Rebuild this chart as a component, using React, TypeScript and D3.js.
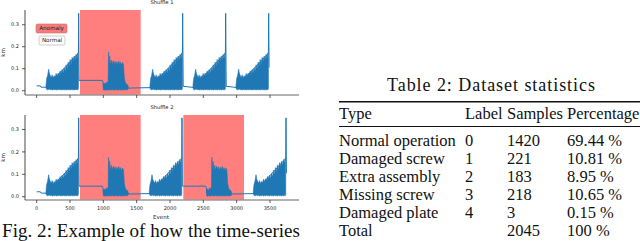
import { useMemo } from 'react';
import * as d3 from 'd3';

// time-series shape: [event offset, low, high]
const normalCycle: [number, number, number][] = [
  [0, 0.012, 0.025], [10, 0.006, 0.055], [25, 0.004, 0.07], [40, 0.006, 0.098],
  [50, 0.008, 0.08], [62, 0.004, 0.07], [78, 0.006, 0.06], [92, 0.003, 0.072],
  [108, 0.005, 0.058], [122, 0.004, 0.068], [138, 0.006, 0.062], [152, 0.003, 0.078],
  [168, 0.005, 0.066], [182, 0.004, 0.08], [198, 0.006, 0.072], [212, 0.004, 0.09],
  [228, 0.005, 0.078], [242, 0.003, 0.096], [258, 0.006, 0.082], [272, 0.004, 0.104],
  [288, 0.005, 0.09], [302, 0.003, 0.118], [318, 0.006, 0.1], [332, 0.004, 0.13],
  [348, 0.005, 0.112], [362, 0.003, 0.142], [378, 0.006, 0.122], [392, 0.004, 0.152],
  [408, 0.005, 0.134], [422, 0.003, 0.158], [438, 0.006, 0.142], [452, 0.004, 0.166],
  [466, 0.005, 0.148], [478, 0.004, 0.172], [486, 0.01, 0.168],
];
const anomalyBurst: [number, number, number][] = [
  [350, 0.004, 0.03], [365, 0.002, 0.035], [380, 0.005, 0.028], [395, 0.002, 0.04],
  [410, 0.004, 0.032], [422, 0.003, 0.045], [428, 0.004, 0.176], [436, 0.005, 0.12],
  [446, 0.003, 0.158], [458, 0.004, 0.115], [470, 0.003, 0.14], [484, 0.005, 0.118],
  [498, 0.003, 0.136], [512, 0.004, 0.122], [526, 0.003, 0.134], [540, 0.005, 0.116],
  [554, 0.003, 0.132], [568, 0.004, 0.12], [582, 0.003, 0.135], [596, 0.005, 0.118],
  [610, 0.003, 0.13], [624, 0.004, 0.115], [638, 0.003, 0.128], [652, 0.005, 0.12],
  [664, 0.004, 0.06], [678, 0.003, 0.04], [694, 0.005, 0.03], [710, 0.004, 0.028],
  [724, 0.008, 0.02],
];
const leadIn: [number, number][] = [[0, 0.022], [55, 0.022], [65, 0.016], [140, 0.016]];
const spikeValue = 0.352;
const anomalySpan = 910;

const shuffle1Normal = [140, 1700, 2345, 2990];
const shuffle1Anomaly = [650];
const shuffle2Normal = [140, 1690, 3250];
const shuffle2Anomaly = [650, 2200];

const xTicks = [0, 500, 1000, 1500, 2000, 2500, 3000, 3500];
const yTicks = [0, 0.1, 0.2, 0.3];

// table
const tableTypes = ['Normal operation', 'Damaged screw', 'Extra assembly', 'Missing screw', 'Damaged plate', 'Total'];
const tableLabels = ['0', '1', '2', '3', '4', ''];
const tableSamples = ['1420', '221', '183', '218', '3', '2045'];
const tablePercent = ['69.44 %', '10.81 %', '8.95 %', '10.65 %', '0.15 %', '100 %'];

const BLUE = '#1f77b4';
const SANS = 'DejaVu Sans, sans-serif';
const SERIF = 'Liberation Serif, serif';

function buildTrace(normals: number[], anomalies: number[]) {
  const segs = [
    ...normals.map((s) => ({ kind: 'n', start: s })),
    ...anomalies.map((s) => ({ kind: 'a', start: s })),
  ].sort((a, b) => a.start - b.start);
  const pts: [number, number][] = [...leadIn];
  segs.forEach((seg, i) => {
    const next = segs[i + 1];
    if (seg.kind === 'n') {
      pts.push([seg.start, 0.015], [seg.start + 486, 0.17], [seg.start + 490, spikeValue]);
      if (!next) pts.push([seg.start + 496, 0.105]);
      else if (next.kind === 'a') pts.push([seg.start + 496, 0.047]);
      else pts.push([seg.start + 498, 0.02], [next.start, 0.015]);
    } else {
      pts.push([seg.start, 0.047], [seg.start + 335, 0.047], [seg.start + 345, 0.04],
        [seg.start + 350, 0.015], [seg.start + 724, 0.012], [seg.start + 730, 0.012]);
      if (next) pts.push([next.start, 0.014]);
    }
  });
  return pts;
}

function Panel({ top, bottom, yDomain, title, normals, anomalies, showXLabels, legend }: {
  top: number; bottom: number; yDomain: [number, number]; title: string;
  normals: number[]; anomalies: number[]; showXLabels: boolean; legend: boolean;
}) {
  const x = d3.scaleLinear().domain([-175, 3935]).range([25, 299]);
  const y = d3.scaleLinear().domain(yDomain).range([bottom, top]);
  const area = d3.area<[number, number, number]>().x((d) => x(d[0])).y0((d) => y(d[1])).y1((d) => y(d[2]));
  const line = d3.line<[number, number]>().x((d) => x(d[0])).y((d) => y(d[1]));
  const trace = useMemo(() => buildTrace(normals, anomalies), [normals, anomalies]);
  const blocks = [
    ...normals.map((s) => normalCycle.map(([o, lo, hi]) => [s + o, lo, hi] as [number, number, number])),
    ...anomalies.map((s) => anomalyBurst.map(([o, lo, hi]) => [s + o, lo, hi] as [number, number, number])),
  ];
  const midY = (top + bottom) / 2;
  return (
    <g>
      {anomalies.map((s) => (
        <rect key={s} x={x(s)} y={top} width={x(s + anomalySpan) - x(s)} height={bottom - top - 0.5}
          fill="#ff0000" fillOpacity={0.5} />
      ))}
      {blocks.map((b, i) => (
        <path key={i} d={area(b) ?? ''} fill={BLUE} stroke={BLUE} strokeWidth={0.6} />
      ))}
      <path d={line(trace) ?? ''} fill="none" stroke={BLUE} strokeWidth={1} />
      <line x1={25} x2={25} y1={top} y2={bottom} stroke="#333" strokeWidth={0.9} />
      <line x1={25} x2={299} y1={bottom} y2={bottom} stroke="#555" strokeWidth={0.9} />
      {yTicks.map((t) => (
        <g key={t}>
          <line x1={22} x2={25} y1={y(t)} y2={y(t)} stroke="#333" strokeWidth={0.8} />
          <text x={19} y={y(t)} dy="0.35em" textAnchor="end" fontSize={5} fontFamily={SANS} fill="#222">
            {t.toFixed(1)}
          </text>
        </g>
      ))}
      {xTicks.map((t) => (
        <g key={t}>
          <line x1={x(t)} x2={x(t)} y1={bottom} y2={bottom + 3} stroke="#333" strokeWidth={0.8} />
          {showXLabels && (
            <text x={x(t)} y={bottom + 10} textAnchor="middle" fontSize={5} fontFamily={SANS} fill="#222">
              {t}
            </text>
          )}
        </g>
      ))}
      <text x={162} y={top - 6} textAnchor="middle" fontSize={5.2} fontFamily={SANS} fill="#222">{title}</text>
      <text transform={`translate(5,${midY}) rotate(-90)`} textAnchor="middle" fontSize={5.5} fontFamily={SANS} fill="#222">km</text>
      {showXLabels && (
        <text x={161} y={bottom + 19} textAnchor="middle" fontSize={5.5} fontFamily={SANS} fill="#222">Event</text>
      )}
      {legend && (
        <g fontFamily={SANS} fontSize={5.6} textAnchor="middle" fill="#222">
          <rect x={36} y={24} width={31} height={9} rx={1.5} fill="#f47c7c" stroke="#d76a6a" strokeWidth={0.6} />
          <text x={51.5} y={28.5} dy="0.35em">Anomaly</text>
          <rect x={39} y={36} width={26} height={9} rx={1.5} fill="#fff" stroke="#aaa" strokeWidth={0.6} />
          <text x={52} y={40.5} dy="0.35em">Normal</text>
        </g>
      )}
    </g>
  );
}

export default function App() {
  const rowBase = [146, 164, 182, 200, 218, 236];
  return (
    <svg width={640} height={241} style={{ position: 'absolute', left: 0, top: 0, background: '#fff' }}>
      <Panel top={10} bottom={95} yDomain={[-0.0195, 0.367]} title="Shuffle 1"
        normals={shuffle1Normal} anomalies={shuffle1Anomaly} showXLabels={false} legend />
      <Panel top={115} bottom={200} yDomain={[-0.0147, 0.3647]} title="Shuffle 2"
        normals={shuffle2Normal} anomalies={shuffle2Anomaly} showXLabels legend={false} />
      <text x={2} y={237} fontSize={19} fontFamily={SERIF} fill="#111" textLength={298} lengthAdjust="spacing">
        Fig. 2: Example of how the time-series
      </text>

      <g fontFamily={SERIF} fill="#111">
        <text x={491} y={91} fontSize={18} textAnchor="middle" textLength={208} lengthAdjust="spacing">
          Table 2: Dataset statistics
        </text>
        <line x1={339} x2={640} y1={101.7} y2={101.7} stroke="#111" strokeWidth={1.4} />
        <g fontSize={16.5}>
          <text x={339} y={118.5}>Type</text>
          <text x={465} y={118.5}>Label</text>
          <text x={507} y={118.5}>Samples</text>
          <text x={567} y={118.5}>Percentage</text>
        </g>
        <line x1={339} x2={640} y1={126.5} y2={126.5} stroke="#111" strokeWidth={1.1} />
        <g fontSize={16.5}>
          {tableTypes.map((t, i) => (
            <g key={t}>
              <text x={339} y={rowBase[i]}>{t}</text>
              <text x={465} y={rowBase[i]}>{tableLabels[i]}</text>
              <text x={507} y={rowBase[i]}>{tableSamples[i]}</text>
              <text x={567} y={rowBase[i]}>{tablePercent[i]}</text>
            </g>
          ))}
        </g>
      </g>
    </svg>
  );
}
